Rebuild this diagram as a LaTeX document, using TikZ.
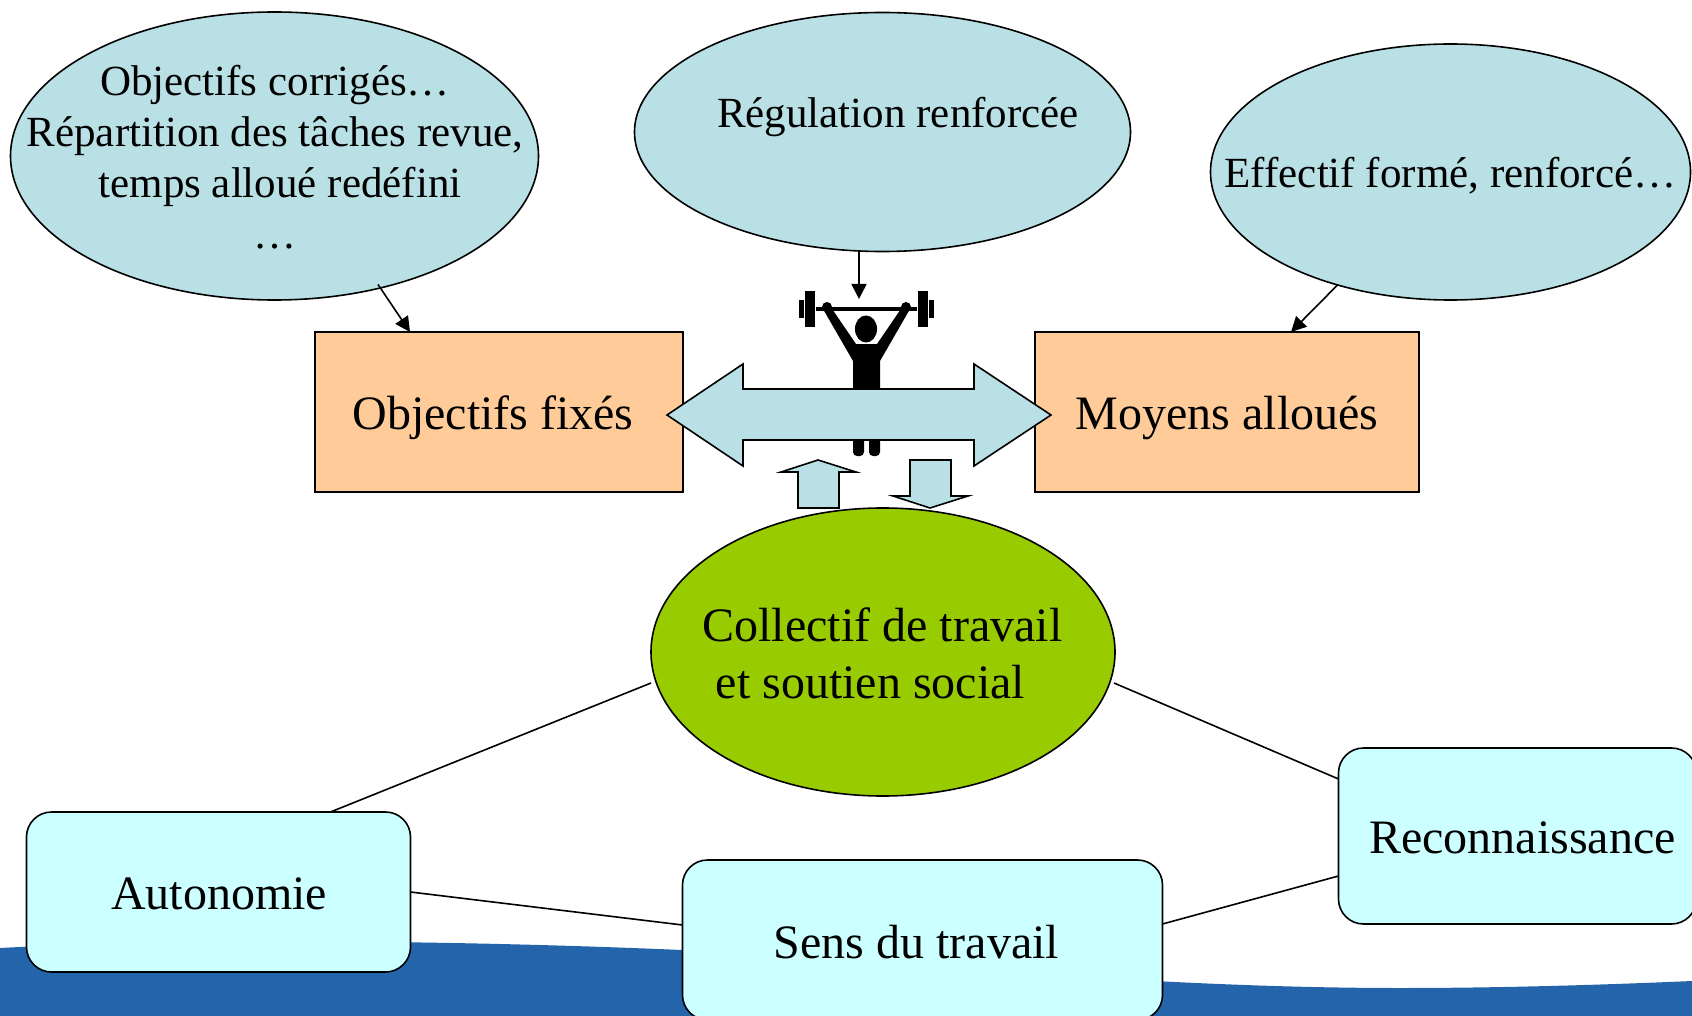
\documentclass[tikz,border=0pt]{standalone}
\usepackage{fontspec}
\setmainfont{Liberation Serif}
\usetikzlibrary{shapes.geometric,arrows.meta,calc}
\definecolor{paleblue}{HTML}{B9E0E4}
\definecolor{peach}{HTML}{FFCC99}
\definecolor{leaf}{HTML}{99CC00}
\definecolor{cyanbox}{HTML}{CCFFFF}
\definecolor{band}{HTML}{2364AA}
\tikzset{
  x=1pt,y=-1pt,
  outl/.style={draw=black,line width=1.6pt},
  oval/.style={outl,ellipse,inner sep=0pt,outer sep=0pt},
  peachbox/.style={outl,fill=peach,rectangle,inner sep=0pt,outer sep=0pt},
  softbox/.style={outl,fill=cyanbox,rectangle,rounded corners=25pt,inner sep=0pt,outer sep=0pt},
  link/.style={draw=black,line width=1.6pt},
  pointer/.style={link,-{Triangle[length=15pt,width=15pt]}},
  blockarrow/.style={outl,fill=paleblue,line join=miter},
  smalltxt/.style={font=\fontsize{43}{51}\selectfont,align=center,inner sep=0pt},
  bigtxt/.style={font=\fontsize{48}{57}\selectfont,align=center,inner sep=0pt}
}
\begin{document}
\begin{tikzpicture}
\useasboundingbox (0,0) rectangle (1692,1016);
% blue band
\fill[band] (0,948) .. controls (150,940) and (400,938) .. (682,950)
  .. controls (900,962) and (1150,988) .. (1400,988)
  .. controls (1500,988) and (1600,985) .. (1692,981)
  -- (1692,1016) -- (0,1016) -- cycle;
% shapes
\node[oval,fill=paleblue,minimum width=528pt,minimum height=288pt] (E1) at (274.5,156) {};
\node[oval,fill=paleblue,minimum width=496pt,minimum height=239pt] (E2) at (882.5,132) {};
\node[oval,fill=paleblue,minimum width=480pt,minimum height=256pt] (E3) at (1450.5,172) {};
\node[peachbox,minimum width=368pt,minimum height=160pt] (R1) at (499,412) {};
\node[peachbox,minimum width=384pt,minimum height=160pt] (R2) at (1227,412) {};
\node[oval,fill=leaf,minimum width=464pt,minimum height=288pt] (G) at (883,652) {};
\node[softbox,minimum width=384pt,minimum height=160pt] (A) at (218.5,892) {};
\node[softbox,minimum width=480pt,minimum height=160pt] (S) at (922.5,940) {};
\node[softbox,minimum width=358pt,minimum height=176pt] (Rc) at (1517.5,836) {};
% connectors
\coordinate (t1) at (410,332);
\coordinate (t2) at (859,299);
\coordinate (t3) at (1291,332);
\draw[pointer] ($(E1.-52)+(0,-4)$) -- (t1);
\draw[pointer] (E2.south -| t2) -- (t2);
\draw[pointer] (E3.-135) -- (t3);
\draw[link] ($(G.west)+(0,31)$) -- ($(A.north)+(112,0)$);
\draw[link] ($(G.east)+(-1,31)$) -- ($(Rc.west)+(0,-57)$);
\draw[link] (A.east) -- ($(S.west)+(0,-15)$);
\draw[link] ($(S.east)+(0,-16)$) -- ($(Rc.west)+(0,40)$);
% weightlifter
\fill (805,291) rectangle (815,327);
\fill (799,300) rectangle (804,318);
\fill (918,291) rectangle (928,327);
\fill (929,300) rectangle (934,318);
\fill (816,307) rectangle (917,311);
\fill (866,329) ellipse [x radius=11,y radius=13.5];
\fill[line join=round] (823,309) -- (853,361) -- (853,400) -- (880,400) -- (880,361) -- (910,309)
  -- (905,303) -- (877,344) -- (856,344) -- (828,303) -- cycle;
\fill (827,307) circle (5);
\fill (906,307) circle (5);
\fill[rounded corners=4pt] (853,430) -- (853,456) -- (864,456) -- (864,430) -- cycle;
\fill[rounded corners=4pt] (869,430) -- (869,456) -- (880,456) -- (880,430) -- cycle;
% block arrows
\draw[blockarrow] (667,415) -- (743,364) -- (743,389) -- (974,389) -- (974,364) -- (1051,415)
  -- (974,466) -- (974,440) -- (743,440) -- (743,466) -- cycle;
\draw[blockarrow] (818,460) -- (856,472) -- (839,472) -- (839,508) -- (798,508) -- (798,472) -- (781,472) -- cycle;
\draw[blockarrow] (910,460) -- (951,460) -- (951,496) -- (968,496) -- (930,508) -- (893,496) -- (910,496) -- cycle;
% labels
\node[smalltxt,anchor=center] (tE1) at (275,157) {Objectifs corrigés…\\Répartition des tâches revue,\\\hspace*{10pt}temps alloué redéfini\\…};
\node[smalltxt] (tE2) at (898,117) {Régulation renforcée};
\node[smalltxt] (tE3) at (1450.5,176) {Effectif formé, renforcé…};
\node[bigtxt] (tR1) at (493,418) {Objectifs fixés};
\node[bigtxt] (tR2) at (1227,418) {Moyens alloués};
\node[bigtxt] (tG) at (882.5,653) {Collectif de travail\\et soutien social\hspace*{24pt}};
\node[bigtxt] (tA) at (219,894) {Autonomie};
\node[bigtxt] (tS) at (916.5,942) {Sens du travail};
\node[bigtxt] (tRc) at (1522.5,838) {Reconnaissance};
\end{tikzpicture}
\end{document}
